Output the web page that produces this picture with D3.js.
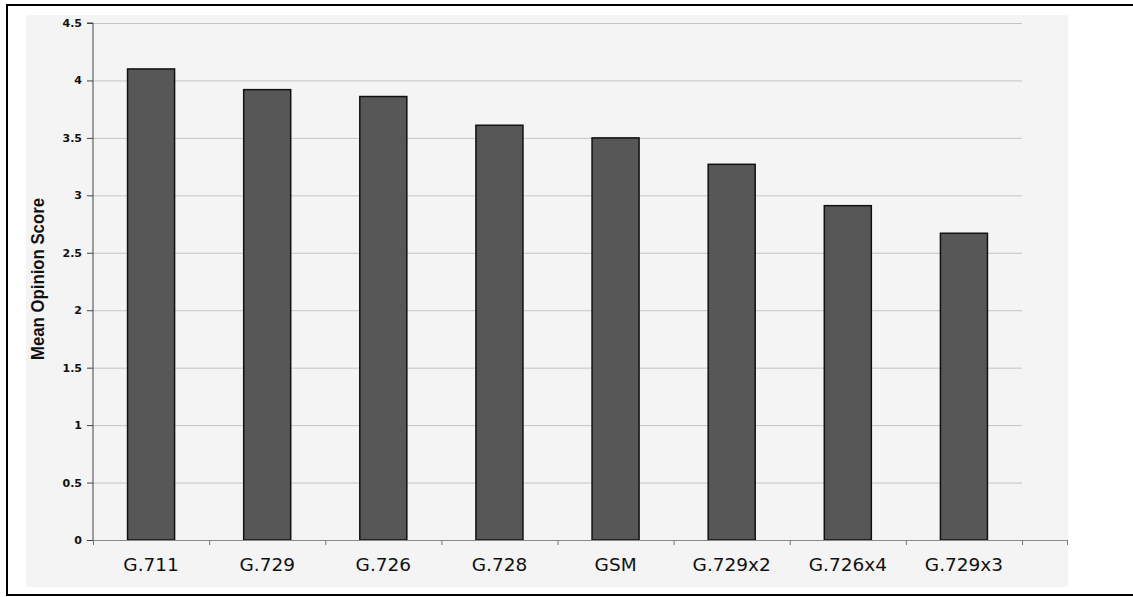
<!DOCTYPE html>
<html>
<head>
<meta charset="utf-8">
<script src="https://cdn.jsdelivr.net/npm/d3@7"></script>
<style>
  html, body { margin: 0; padding: 0; background: #fff; }
  svg { display: block; }
</style>
</head>
<body>
<svg id="chart" width="1133" height="597"></svg>
<script>
const categories = ["G.711", "G.729", "G.726", "G.728", "GSM", "G.729x2", "G.726x4", "G.729x3"];
const mosValues = [4.1, 3.92, 3.86, 3.61, 3.5, 3.27, 2.91, 2.67];
const yTicks = [0, 0.5, 1, 1.5, 2, 2.5, 3, 3.5, 4, 4.5];
const yTitle = "Mean Opinion Score";

const svg = d3.select("#chart");

// outer frame
svg.append("rect").attr("x", 7).attr("y", 5).attr("width", 1130).attr("height", 590)
  .attr("fill", "#fff").attr("stroke", "#000").attr("stroke-width", 2);
// plot-area background
svg.append("rect").attr("x", 26).attr("y", 15).attr("width", 1042).attr("height", 572)
  .attr("fill", "#f4f4f4");

const x0 = 93, xEnd = 1022, axisEnd = 1067;
const y = d3.scaleLinear().domain([0, 4.5]).range([540, 23]);
const x = d3.scaleBand().domain(categories).range([x0, xEnd]).padding(0);
const barW = x.step() * 0.405;

// gridlines
svg.append("g").selectAll("line").data(yTicks.filter(d => d > 0)).join("line")
  .attr("x1", x0).attr("x2", xEnd)
  .attr("y1", d => y(d) + 0.5).attr("y2", d => y(d) + 0.5)
  .attr("stroke", "#c4c4c4").attr("stroke-width", 1);

// bars
svg.append("g").selectAll("rect").data(categories).join("rect")
  .attr("x", (d) => x(d) + (x.bandwidth() - barW) / 2)
  .attr("width", barW)
  .attr("y", (d, i) => y(mosValues[i]))
  .attr("height", (d, i) => y(0) - y(mosValues[i]))
  .attr("fill", "#575757").attr("stroke", "#111").attr("stroke-width", 1.5);

// y axis
const yAxis = d3.axisLeft(y).tickValues(yTicks).tickSize(6).tickPadding(5)
  .tickFormat(d => d3.format("")(d));
const gy = svg.append("g").attr("transform", `translate(${x0},0)`).call(yAxis);
gy.select(".domain").attr("stroke", "#444").attr("d", `M-6,${y(4.5)}H0V${y(0)}`);
gy.selectAll(".tick line").attr("stroke", "#444");
gy.selectAll(".tick text").attr("fill", "#111")
  .style("font-family", "'DejaVu Sans', sans-serif").style("font-weight", "bold").style("font-size", "11px");

// x axis
const xAxis = d3.axisBottom(x).tickSize(0).tickPadding(18);
const gx = svg.append("g").attr("transform", `translate(0,${y(0)})`).call(xAxis);
gx.select(".domain").attr("stroke", "#8a8a8a").attr("d", `M${x0},0.5H${axisEnd}`);
gx.selectAll(".tick text").attr("fill", "#111")
  .style("font-family", "'DejaVu Sans', sans-serif").style("font-size", "18.5px");
// slot boundary ticks
const bounds = categories.map(c => x(c)).concat([xEnd, axisEnd]);
svg.append("g").selectAll("line").data(bounds).join("line")
  .attr("x1", d => d + 0.5).attr("x2", d => d + 0.5)
  .attr("y1", y(0)).attr("y2", y(0) + 5)
  .attr("stroke", "#777").attr("stroke-width", 1);

// y title
svg.append("text")
  .attr("transform", `translate(44,${279}) rotate(-90)`)
  .attr("text-anchor", "middle")
  .attr("textLength", 162).attr("lengthAdjust", "spacingAndGlyphs")
  .style("font-family", "'Liberation Sans', Arial, sans-serif")
  .style("font-weight", "bold").style("font-size", "18px")
  .attr("fill", "#111")
  .text(yTitle);
</script>
</body>
</html>
